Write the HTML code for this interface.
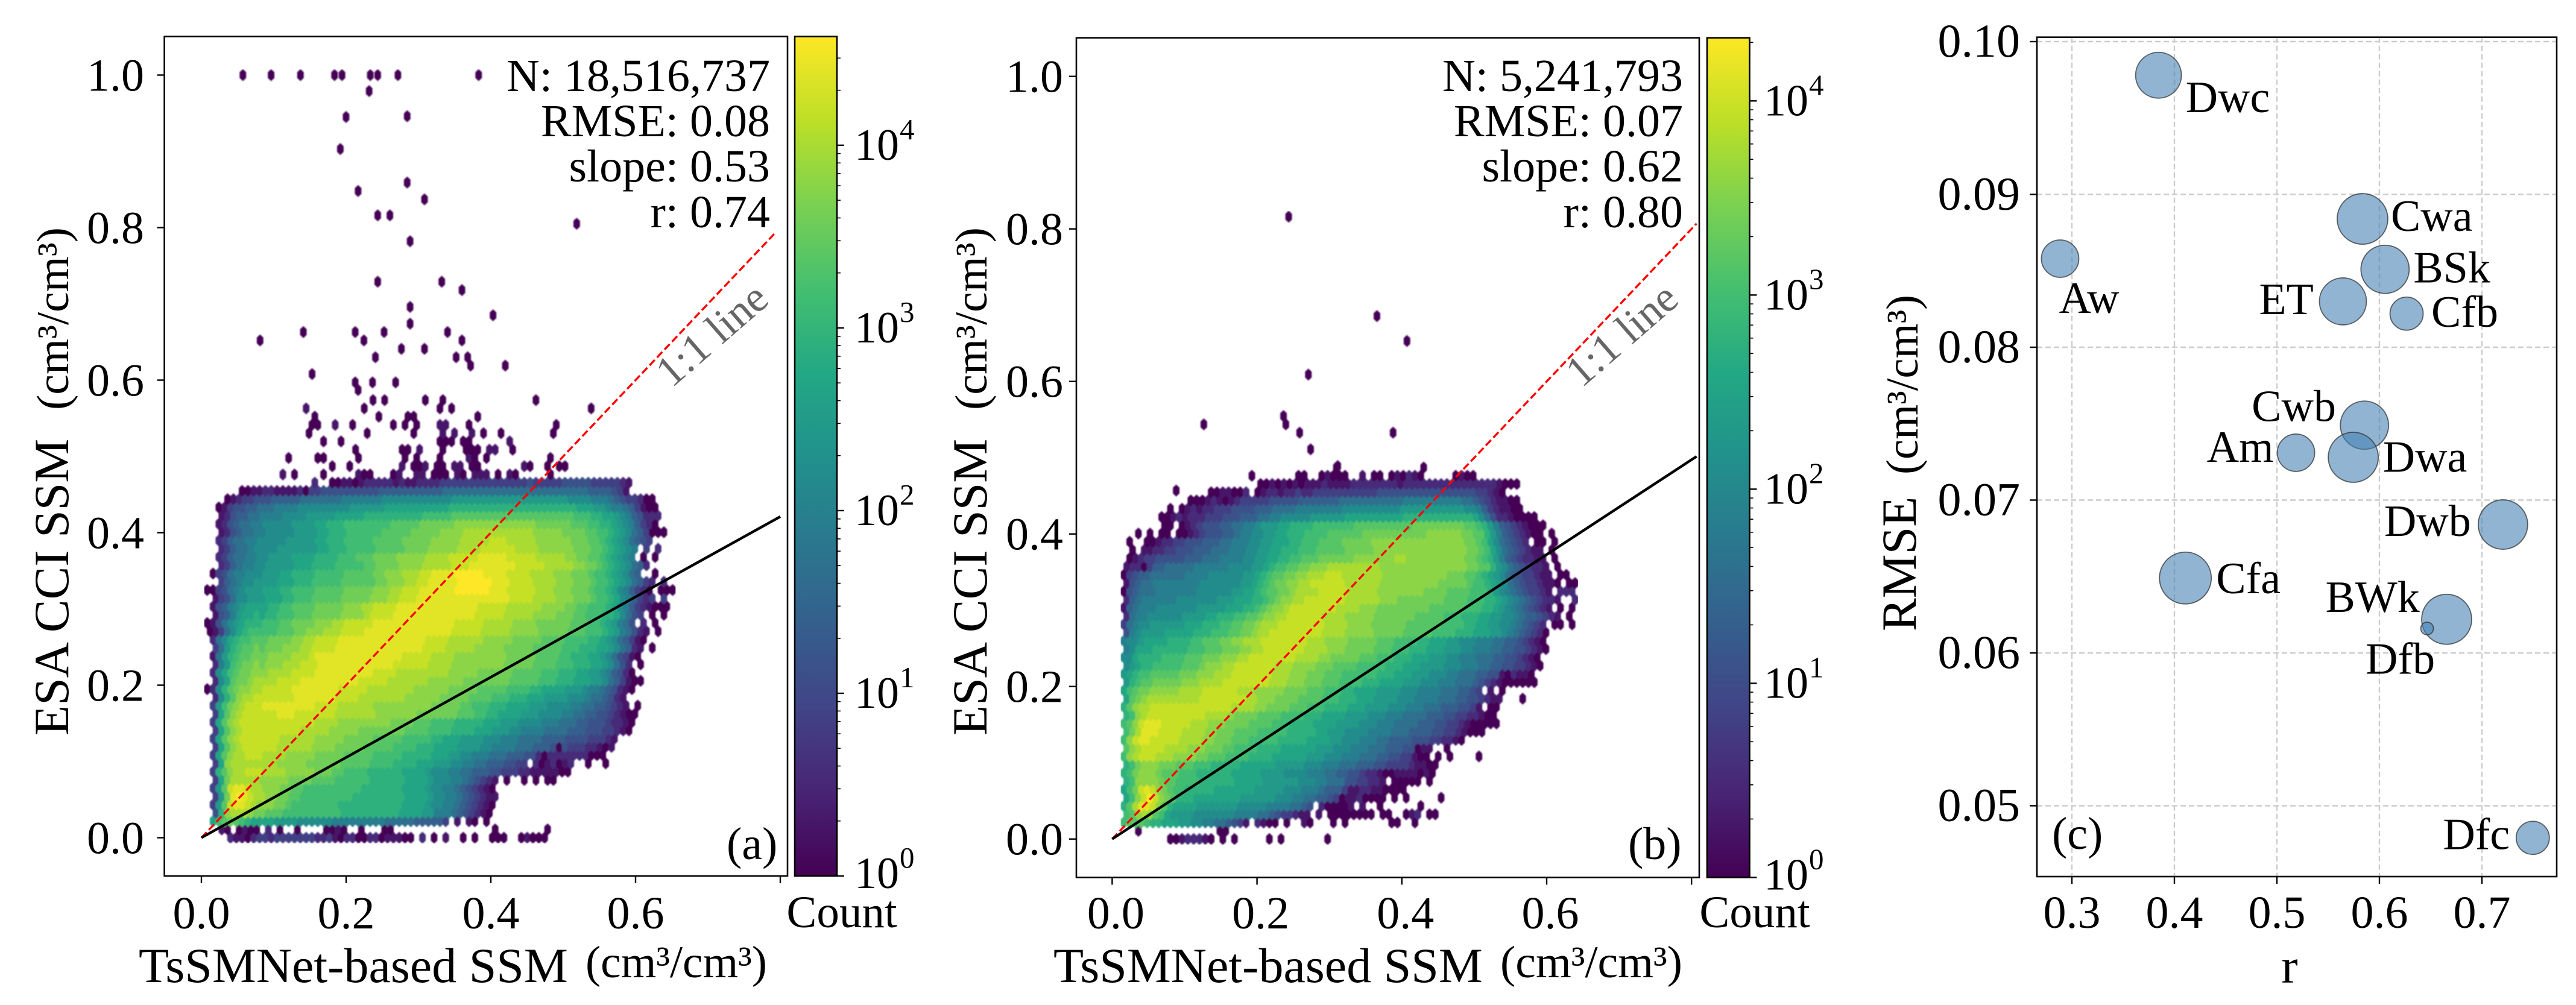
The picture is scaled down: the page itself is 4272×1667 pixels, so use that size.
<!DOCTYPE html>
<html lang="en">
<head>
<meta charset="utf-8">
<title>TsSMNet-based SSM vs ESA CCI SSM</title>
<style>
html,body{margin:0;padding:0;background:#fff}
svg{display:block}
text{font-family:"Liberation Serif",serif;fill:#000}
</style>
</head>
<body>
<svg id="chart" xmlns="http://www.w3.org/2000/svg" width="4272" height="1667" viewBox="0 0 4272 1667">
<rect width="4272" height="1667" fill="#fff"/>
<defs>
<linearGradient id="viridis" x1="0" y1="1" x2="0" y2="0">
<stop offset="0" stop-color="#440154"/><stop offset=".1" stop-color="#482475"/><stop offset=".2" stop-color="#414487"/><stop offset=".3" stop-color="#355f8d"/><stop offset=".4" stop-color="#2a788e"/><stop offset=".5" stop-color="#21918c"/><stop offset=".6" stop-color="#22a884"/><stop offset=".7" stop-color="#44bf70"/><stop offset=".8" stop-color="#7ad151"/><stop offset=".9" stop-color="#bddf26"/><stop offset="1" stop-color="#fde725"/>
</linearGradient>
<filter id="soft" x="0" y="0" width="100%" height="100%" filterUnits="objectBoundingBox"><feGaussianBlur stdDeviation="1"/></filter>
</defs>
<g id="layer-a"></g>
<g id="layer-b"></g>
<g id="layer-c"></g>
<g id="labels">
  <g text-anchor="end" font-size="76">
    <text x="1277" y="151">N: 18,516,737</text>
    <text x="1277" y="226">RMSE: 0.08</text>
    <text x="1277" y="301">slope: 0.53</text>
    <text x="1277" y="377">r: 0.74</text>
    <text x="2791" y="151">N: 5,241,793</text>
    <text x="2791" y="226">RMSE: 0.07</text>
    <text x="2791" y="301">slope: 0.62</text>
    <text x="2791" y="377">r: 0.80</text>
  </g>
  <text x="1205" y="1425" font-size="76">(a)</text>
  <text x="2700" y="1425" font-size="76">(b)</text>
  <text x="3403" y="1408" font-size="76">(c)</text>
  <text x="1196" y="573" font-size="72" style="fill:#666" text-anchor="middle" transform="rotate(-41 1196 573)">1:1 line</text>
  <text x="2705" y="573" font-size="72" style="fill:#666" text-anchor="middle" transform="rotate(-41 2705 573)">1:1 line</text>
  <text x="230" y="1629" font-size="82">TsSMNet-based SSM</text>
  <text x="971" y="1621" font-size="75" textLength="301" lengthAdjust="spacingAndGlyphs">(cm³/cm³)</text>
  <text x="1747" y="1629" font-size="82">TsSMNet-based SSM</text>
  <text x="2488" y="1621" font-size="75" textLength="302" lengthAdjust="spacingAndGlyphs">(cm³/cm³)</text>
  <text font-size="82" transform="translate(113 1220) rotate(-90)">ESA CCI SSM</text>
  <text font-size="75" transform="translate(113 680) rotate(-90)" textLength="303" lengthAdjust="spacingAndGlyphs">(cm³/cm³)</text>
  <text font-size="82" transform="translate(1636 1220) rotate(-90)">ESA CCI SSM</text>
  <text font-size="75" transform="translate(1636 680) rotate(-90)" textLength="303" lengthAdjust="spacingAndGlyphs">(cm³/cm³)</text>
  <text x="1396" y="1538" font-size="75" text-anchor="middle">Count</text>
  <text x="2910" y="1538" font-size="75" text-anchor="middle">Count</text>
  <text x="3797" y="1630" font-size="82" text-anchor="middle">r</text>
  <text font-size="82" transform="translate(3177 1047) rotate(-90)">RMSE</text>
  <text font-size="75" transform="translate(3180 787) rotate(-90)" textLength="298" lengthAdjust="spacingAndGlyphs">(cm³/cm³)</text>
</g>
</svg>
<script>
// ---------- DATA: hexbin levels per row (index = row, space = readability only, '.' = empty bin)
const levelChars = "0123456789abcdefghij";
const panelACountRows = [
".....21102 3323333333 2231022002 2011100.2. 0.1..0.0.. 000..01000",
"...10.0100 .2.0..0... .0010..0.. .00....... .......... 0........0",
"..acdedcba aaa9999888 8887777777 7766666555 553.1.10.0",
"..4bfgggfe edddcccccc ccccbbbbbb bbbbaaaa99 7776543210",
"..39dhiihg fffeedcccc ccccbbbbbb bbbbbaaaa9 8877654321 0",
"..39eijihg gffeeddccc ccccccbbbb bbbbbaaaa9 8877654321 1",
"..39dhiihg gfffeeddcc ccccccccbb bbbbbaaaa9 8877654321 0",
"..3aeggggg fffffeeeed dddccccccb bbbbbaaaa9 8887765432 1.0..0.0.0 0",
"..3bdfgghh hggggfffff eeeddccccb bbbbbaaaa9 8887766555 4433322111 1100",
"..3afggggg gggfffffee eeeedddddc cccbbbbaaa 9998877665 554433.201 2012..0..0",
"..3adfgghh hggggfffff eeeeeddddd cccccbbbbb aaa9988777 6665554420 2222222000",
"..3adfghhh hhhggggggf fffeeeeedd dddccccbbb aaaa999988 7777666555 4043332210 1",
"..3adfghhh hhhhgggggg fffffeeeee dddddccccc bbaaa99998 8877766665 5554444333 21",
"..3adfghhh hhhhhhhggg ggfffffeee eeeeeddddc cccbbbbaaa 9998877776 6665554443 3210",
"..3adfghhh hhhhhhhhhh ggggffffff fffeeeeddd ccccbbbbba aa99988887 7766655444 32210",
"..3adfghhh hhhiiihhhh hhhggggggg fffffffeee eeeedddccb baaaa99988 8877665544 32100",
"..39cefghh hiiiiiiiii hhhhgggggg ffffffffff eeeeeddccc bbbaaaa999 8888776655 4321.0",
"..28bdfggh hhhhhhiiii iiihhhhggg gggggfffff feeeeedddd cccbbbaaa9 9998887665 421",
".028bdeffg ghhhhhiiii iiiihhhhhg gggggggfff fffeeeeedd dddccccbba aaa9998776 54210",
"..28adeefg ggghhhhiii iiiiiiihhh hhgggggggf fffffeeeee eeedddddcc cbbbaaa998 653100",
"..28acdeef ffgggghhhh iiiiiiiiii hhhhgggggg gggfffffee eeeedddddc ccbbbaa998 75420",
"..279cdeef efffggghhh iiiiiiiiii iiihhhhhhg gggfffffff ffeeeeeddd dcccbbbaa9 8642.0",
"..169bcdde eeffffgggh iiiiiiiiii iiiiihhhhh ggggffffff fffeeeeedd ddccbbbaa9 864310",
"..369bcdde deeefffggh hhhiiiiiii iiiiiiiihh hhgggggfff ffeeeeeddd ddcccbbbaa 986521.0",
"..268abccd ddeeeeffgg hhhhiiiiii iiiiiiiiih hhhggggggf ffffeeeeed dddccccbba 9865310",
".01368abcc cccdddeeff fggghhhhii iiiiiiiiii iiihhhhhgg gggfffffee eeedddcccb a976421.0.",
".014689abb bcccddeeee fffgghhhhh iiiiiiiiii iiiihhhhhg ggggffffee eeeedddccb a9764.2.0.",
"..14579aab abbcccddde eeeeffffgh hhhiiiiiii iiiiiiihhh hhgggggfff feeeddcccb ba8643.0.0",
"..145789aa aabbccdddd eeeeefffgg hhhhiiiiii iiiiiiiihh hhhggggggf fffeeddccc ba87532100 0",
"..13468899 9aaabbcccd ddddeeeeef ffgghhhiii iiiiiiiiii iiihhhhggg gfffeeedcc ba875323.3",
".003467899 9aaabbcccc dddddeeeee fffgghhhii iiiijjjjjj iiihhhhhgg gfffeeedcc ba875320.0 00",
"...3567889 999aaabbbc ccccdddddd eefffgghhi iiiijjjjjj iiihhhhggg gfffeeedcc ba986532.2",
"..03467788 8999aabbbb cccccddddd eefffggghh iiiijjjjji iiihhhhggg gfffeeedcc ba9865..0.",
"...2356778 899999aaab bbbcccccdd eeeeffffgg ggghhhiiii iiiihhhhhg ggggffeedc ba98652",
"...2356677 889999aaaa bbbbcccddd eeeefffffg ggghhhhhii iiihhhhhgg gggffeeddc ba987.0.0.",
"...2356678 8889999999 aabbbccccc dddddeeeef ffffgggghh hhhhggggff ffffeeeddc ba987.3.2.",
"...2356677 8888899999 aabbbccccc dddddeeeee fffffggggg hhhgggggff ffffeeeddc ba986543",
"...1245667 7888889999 aabbbccccc cdddddeeee effffggggg gggggggfff ffeeeeddcc ba98653000",
"...1245667 7888889999 aabbbccccc cccdddddee eeeeffffff ffffffffee eeeedddccb ba9875320.",
"...1245566 7777888899 999aaaaabb bbbbbbbbcc cccddddddd dddddddddd ddddcccbba a98754222.",
"...0134455 6667777888 8888889999 99aaaaaaaa aaabbbbbbb bbbbbbbbbb bbbbbaaa99 877653100.",
"....012334 4455555666 6666777777 7888888888 8889999999 9999999999 9998888777 65433200",
".......001 1221111203 3444444444 4555555555 5566666666 6666666666 6666666555 5431",
".......... .........2 ..00110122 2221211222 2333333333 3333334333 3344444333 3321",
".......... ....1.0... .0.....100 ...01..11. 000.10.111 .0.10..... 0",
".......... .......... ..0..0.... ....1.001. 00.11.00.. .....10..0 .00",
".......... .....0.... 00.....0.. .....0.0.. .0....10.0 .......... 0",
".......... .......... ......0... ....00.1.. .0...000.1 1..0",
".......... .......... .0..0..... .......... .000.00... ...1",
".......... ........0. ........0. ......0... .1.1..1.0. .0........ 0",
".......... .........0 0..1..0... ...0.0.0.. .11...0... .......... .0",
".......... .........0 .......... 0....00... .......0",
".......... ........1. ........0. .......... .0.0...... .......... .......0",
".......... .......... .........0 .0......0. .0........ .......0"
];
const panelBCountRows = [
".......... 00122210.0 .0.....0.0 .......0..",
"....0..... ........00",
"..cdddcbba aa99887766 5431.2100. 0..10...0. 0.......00 ..0",
"..cdfgfdca 9999888888 8777766543 3211.1.000 00000.00.. 012.00",
"..bdgiihfd baaaa99999 9988888777 76654.2000 01.1..0... ...0",
"..acfhjhfe dbbbaaaaaa aa99999988 8776655430 1120000.0. 0.....0",
"..acehihfe dccbbbbbaa aaaaa99999 8887776555 3112211000 0",
"..bcffffed dccccbbbbb baaaaa9999 9988877666 4433221.00 000.0",
"..bcefffed ddcccbbbbb baaaaa9999 8888777665 5443221001 111010",
"..bcefffee edddcccbbb bbaaaaaa99 9998887776 6655544333 321100",
"..cfghhhgg gffffeeddd ccccbbbbaa aaaa999888 7776665544 33100.0.0. ...0",
"..dfghhhhg gggfffeeed dccccbbbba aaaaa99988 8777666555 44011..0..",
"..cfhiihhh hhggggffee edddcccccb bbbbaaaa99 8887776655 5544433221 0",
"..cegiiihh hhggggffee eddddccccc bbbbbaa999 8888777766 6555544332 1000",
"..cdfhiiih hhhhgggfff eeeeddddcc cbbbbaaaa9 9998887776 6665554433 2100000",
"..bcfghhhh hhhhhhgggg feeeeddddc cccbbbaaaa 9999888777 6666555443 322100",
"..bdfgghhh hhhhhhhhhh hggggffeee edddcccbbb baaa999988 8777666555 4431.00",
"..adefgggg ggggghhhhh hhhggfffee eeddddcccb bbaaa99998 8877776665 5443211... 0",
"..acdeefff ffgggghhhh hhgggfffff eeeedddccc bbaaaa9999 8887777666 5543.1.0",
"..9bcddeee eefffggggh hhhhhhhggg fffeeedddc cccbbbaaaa 9998887776 6654321000 000",
"..9abccddd ddeeefffgg ghhhhhhhgg gfffeeeddd ccccccbbba aa99988877 6665544102 110",
"..89abbccc ccdddefffg ghhhhhhhgg gffffeeedd ddcccccbbb aaa9999888 7776655443 3210",
"..88abbbbc cccdddeeef ffgghhhhhh hhggggffee eeedddcccb bbaaa99988 7776665544 3210",
"..78aaabbb bbbcccddde eeffgghhhh hhhggggfff eeeeedddcc cbbbaaa999 8877766554 43210",
"..7889aaaa bbbbccddde effggghhhh hhhhgggfff feeeeedddc cccbbaaa99 8887776655 43210",
"..4789999a aaaabbbccc ddeefgghhh hhhhhhgggg fffffeeeee dddddccccb bbaaa99876 54320",
"..36788999 999aaabbbc cddeefgggh hhhhhhhggg gffffeeeee eddddddccc cbbaa99887 65432.00.0",
"..26778888 889999aabb bccddeffgg hhhhhhgggg fffffeeeee eedddddccc bbbaa99887 6554321.0",
"..15677788 8888899999 aaabbcdeff ghhhhhhhhg gggfffeeee eeeeeddddd dcccbba987 654321.0.0",
"..25677777 7888888899 9aaabbcdef fgghhhhhhh ggggggfffe eeeeeeeddd dcccbba987 6543221..2",
"..04566677 7777788888 899aabcdde efgggghhhh hgggggffff ffffeeeedd ddcccb9876 543321.222",
"..14566777 7777788888 8899abcdee ffgghhhhhh ggggggffff ffffffeeee edccba9865 4332110.00",
"..03455666 6667777888 88899abcdd eeffggghhh gggggggfff ffffffffee eddcba9865 433211.00.",
"..12203556 6666777777 888899abcc ddeefffggg ggggggffff ffffffffff feeddb9865 43221.0",
"...0123344 4445556667 7778899aab bccdddeeee eefffffffg gfffffffff feedcb9754 32211.0",
"...0.11223 3444555666 7778899aab bbcccddddd eeeeefffff ffffffffff feedca8654 3211.0",
"...0..0012 2334445556 67778899aa abbcccdddd eeeeefffff ffffffffff feedca8654 32.00.0",
"....0.0.00 .001234445 56778899aa bbbccccddd dddeeeeeee eeeeffffff eeddb97543 2100.0",
".........0 0.01234445 566778999a abbbbccccc ccdddddddd ddeeeeeeee eddcb97543 21000",
"........00 1212223334 4455566778 8888999999 aaaaaaaaaa bbbbbbbbbb bba8642210 000",
".......... 0.01212233 3444455566 6677777777 8888888888 9999999999 9887532110 0",
".......... ...0001210 1233333444 4455555556 6666666666 7777777777 6654321100",
".......... .......001 1002.01221 2232233333 3333334444 4444444444 44433210",
".......... .......... .....00101 0101112111 1222222221 2222222222 2222221000",
".......... .......... ....0..... ..00..0100 0..1.00.01 0210.....0 100",
".......... .......... .......... ........0. .......... ...0"
];
// isolated single-count bins above the main cloud
const panelAOutlierX = [.0573,.0963,.1369,.184,.1943,.2334,.2437,.2716,.3832,.2318,.1999,.2844,.192,.2844,.2166,.3083,.2437,.2605,.5187,.2884,.2437,.3322,.3601,.2884,.4031,.2884,.2126,.1409,.3402,.2525,.0811,.2246,.3601,.3083,.2764,.2405,.3521,.368,.372,.42,.153,.2126,.2365,.2684,.2166];
const panelAOutlierY = [1,1,1,1,1,1,1,1,1,.979,.945,.946,.903,.859,.848,.837,.816,.816,.805,.782,.729,.729,.718,.696,.685,.674,.663,.663,.663,.663,.652,.652,.652,.641,.641,.63,.63,.63,.619,.619,.608,.597,.597,.597,.587];
const panelBOutlierX = [.2437,.3656,.4071,.2709,.1266,.2366,.2398,.2589,.3879,.274,.3115,.0884];
const panelBOutlierY = [.816,.6857,.653,.609,.5437,.5546,.5437,.5328,.5328,.511,.489,.457];
// fit lines
const panelAFitEnd = [0.8, 0.421];
const panelAOneToOneEnd = [0.7915, 0.7915];
const panelBFitEnd = [0.807, 0.5017];
const panelBOneToOneEnd = [0.807, 0.807];
// tick values
const hexXTicks = [0, 0.2, 0.4, 0.6, 0.8];
const hexXTickLabels = ["0.0", "0.2", "0.4", "0.6", ""];
const hexYTicks = [0, 0.2, 0.4, 0.6, 0.8, 1];
const hexYTickLabels = ["0.0", "0.2", "0.4", "0.6", "0.8", "1.0"];
const colorbarExponents = [0, 1, 2, 3, 4];
// panel (c) bubble values
const climateNames = ["Dwc","Cwa","BSk","ET","Cfb","Aw","Cwb","Am","Dwa","Dwb","Cfa","BWk","Dfb","Dfc"];
const climateR = [.3845,.5835,.6055,.5644,.6265,.2885,.5854,.5186,.5745,.7205,.4107,.6656,.6465,.7496];
const climateRMSE = [.0978,.0884,.0851,.083,.0822,.0858,.0749,.0731,.0728,.0684,.0649,.0622,.0616,.0479];
const climateSize = [38,42,40,39,27.5,31,40,31,41.5,41,43,41.5,10.5,27.5];
const bubbleXTicks = [.3,.4,.5,.6,.7];
const bubbleXTickLabels = ["0.3","0.4","0.5","0.6","0.7"];
const bubbleYTicks = [.05,.06,.07,.08,.09,.1];
const bubbleYTickLabels = ["0.05","0.06","0.07","0.08","0.09","0.10"];

// ---------- RENDERING
const NS = "http://www.w3.org/2000/svg";
const viridisStops = ["#440154","#482475","#414487","#355f8d","#2a788e","#21918c","#22a884","#44bf70","#7ad151","#bddf26","#fde725"];
function hexRgb(h){return [1,3,5].map(i=>parseInt(h.substr(i,2),16));}
function viridis(f){
  f = Math.max(0,Math.min(1,f));
  const p = f*(viridisStops.length-1), i = Math.min(Math.floor(p),viridisStops.length-2), t = p-i;
  const a = hexRgb(viridisStops[i]), b = hexRgb(viridisStops[i+1]);
  return "rgb("+a.map((v,k)=>Math.round(v+(b[k]-v)*t)).join(",")+")";
}
function node(parent, tag, attrs){
  const e = document.createElementNS(NS, tag);
  for (const k in attrs) e.setAttribute(k, attrs[k]);
  parent.appendChild(e);
  return e;
}
const ROW_STEP = 0.010825;      // y data units between hex rows
const COL_STEP = 0.00804;       // x data units between hex columns
const HEX_COUNT_LEVELS = 19;
const LEVEL_CALIBRATION = 0.06; // read-off levels sit slightly low in the mid range

function drawHexPanel(cfg){
  const g = document.getElementById(cfg.layer);
  const sx = v => cfg.x0 + cfg.xs*v;
  const sy = v => cfg.y0 - cfg.ys*v;
  const hw = COL_STEP*cfg.xs/2, hh = ROW_STEP*cfg.ys*2/3;
  const logCount = level => {
    const f = level/HEX_COUNT_LEVELS;
    return (f + LEVEL_CALIBRATION*Math.sin(Math.PI*f))*cfg.decades;
  };
  const hexPath = (x,y) => {
    const cx = sx(x), cy = sy(y);
    return "M"+cx.toFixed(1)+" "+(cy-hh).toFixed(1)+"l"+hw.toFixed(2)+" "+(hh/2).toFixed(2)+"v"+hh.toFixed(2)+"l"+(-hw).toFixed(2)+" "+(hh/2).toFixed(2)+"l"+(-hw).toFixed(2)+" "+(-hh/2).toFixed(2)+"v"+(-hh).toFixed(2)+"z";
  };
  const hexLayer = node(g,"g",{filter:"url(#soft)"});
  
  
  const addHex = (x,y,level) => {
    const color = viridis(logCount(level)/cfg.decades);
    const h = node(hexLayer,"path",{d:hexPath(x,y),fill:color,stroke:color,"stroke-width":1.2});
    
    
  };
  cfg.rows.forEach((raw,r) => {
    const chars = raw.replace(/ /g,"");
    for (let c=0;c<chars.length;c++){
      const level = levelChars.indexOf(chars[c]);
      if (level<0) continue;
      addHex((c+(r%2?0.5:0))*COL_STEP, r*ROW_STEP, level);
    }
  });
  cfg.outX.forEach((x,i) => addHex(x,cfg.outY[i],0));

  // 1:1 and fit lines
  const oneToOne = node(g,"line",{x1:sx(0),y1:sy(0),x2:sx(cfg.oneEnd[0]),y2:sy(cfg.oneEnd[1]),stroke:"#f00","stroke-width":3.4,"stroke-dasharray":"12.5 5.5"});
  
  
  const fit = node(g,"line",{x1:sx(0),y1:sy(0),x2:sx(cfg.fitEnd[0]),y2:sy(cfg.fitEnd[1]),stroke:"#000","stroke-width":4.4});
  
  

  // frame
  const frame = node(g,"rect",{x:cfg.left,y:cfg.top,width:cfg.right-cfg.left,height:cfg.bottom-cfg.top,fill:"none",stroke:"#000","stroke-width":2.6});
  
  

  // x ticks
  hexXTicks.forEach((v,i) => {
    const t = node(g,"line",{x1:sx(v),x2:sx(v),y1:cfg.bottom,y2:cfg.bottom+12,stroke:"#000","stroke-width":2.4});
    
    
    if (!hexXTickLabels[i]) return;
    const l = node(g,"text",{x:sx(v)+cfg.xLabelShift,y:cfg.xLabelY,"font-size":76,"text-anchor":"middle"});
    l.textContent = hexXTickLabels[i];
    
    
  });
  // y ticks
  hexYTicks.forEach((v,i) => {
    const t = node(g,"line",{x1:cfg.left-12,x2:cfg.left,y1:sy(v),y2:sy(v),stroke:"#000","stroke-width":2.4});
    
    
    const l = node(g,"text",{x:cfg.yLabelX,y:sy(v)+26,"font-size":76,"text-anchor":"end"});
    l.textContent = hexYTickLabels[i];
    
    
  });
  // colorbar
  const bar = node(g,"rect",{x:cfg.cbL,y:cfg.top,width:cfg.cbR-cfg.cbL,height:cfg.bottom-cfg.top,fill:"url(#viridis)",stroke:"#000","stroke-width":2.6});
  
  
  const cy = logV => cfg.bottom - logV/cfg.decades*(cfg.bottom-cfg.top);
  colorbarExponents.forEach(exp => {
    const major = node(g,"line",{x1:cfg.cbR,x2:cfg.cbR+12,y1:cy(exp),y2:cy(exp),stroke:"#000","stroke-width":2.4});
    
    
    for (let m=2;m<=9;m++){
      const lv = exp+Math.log10(m);
      if (lv>cfg.decades) break;
      const minor = node(g,"line",{x1:cfg.cbR,x2:cfg.cbR+6,y1:cy(lv),y2:cy(lv),stroke:"#000","stroke-width":1.6});
      
      
    }
    const l = node(g,"text",{x:cfg.cbLabelX,y:cy(exp)+(exp===0?20:24),"font-size":74});
    
    
    const base = node(l,"tspan",{});
    base.textContent = "10";
    const power = node(l,"tspan",{dy:-34,"font-size":49,dx:1});
    power.textContent = String(exp);
  });
}

drawHexPanel({layer:"layer-a",rows:panelACountRows,outX:panelAOutlierX,outY:panelAOutlierY,
  fitEnd:panelAFitEnd,oneEnd:panelAOneToOneEnd,
  left:272.6,right:1306,top:60.6,bottom:1453,x0:334,xs:1200,y0:1389.5,ys:1265,
  cbL:1318,cbR:1388,decades:4.595,cbLabelX:1417,xLabelY:1540,xLabelShift:0,yLabelX:239});
drawHexPanel({layer:"layer-b",rows:panelBCountRows,outX:panelBOutlierX,outY:panelBOutlierY,
  fitEnd:panelBFitEnd,oneEnd:panelBOneToOneEnd,
  left:1785,right:2818,top:62.7,bottom:1455.4,x0:1844.4,xs:1201,y0:1391.7,ys:1265,
  cbL:2831,cbR:2901.5,decades:4.325,cbLabelX:2925,xLabelY:1540,xLabelShift:6,yLabelX:1763});

// panel (c)
(function(){
  const g = document.getElementById("layer-c");
  const L=3378,R=4240,T=61.7,B=1454;
  const sx = v => 3436+(v-0.3)*1700;
  const sy = v => 69+(0.10-v)*25350;
  bubbleXTicks.forEach((v,i) => {
    const gl = node(g,"line",{x1:sx(v),x2:sx(v),y1:T,y2:B,stroke:"#ccc","stroke-width":2.4,"stroke-dasharray":"9 5"});
    
    
    const t = node(g,"line",{x1:sx(v),x2:sx(v),y1:B,y2:B+12,stroke:"#000","stroke-width":2.4});
    
    
    const l = node(g,"text",{x:sx(v),y:1539,"font-size":76,"text-anchor":"middle"});
    l.textContent = bubbleXTickLabels[i];
    
    
  });
  bubbleYTicks.forEach((v,i) => {
    const gl = node(g,"line",{x1:L,x2:R,y1:sy(v),y2:sy(v),stroke:"#ccc","stroke-width":2.4,"stroke-dasharray":"9 5"});
    
    
    const t = node(g,"line",{x1:L-12,x2:L,y1:sy(v),y2:sy(v),stroke:"#000","stroke-width":2.4});
    
    
    const l = node(g,"text",{x:3350,y:sy(v)+25,"font-size":78,"text-anchor":"end"});
    l.textContent = bubbleYTickLabels[i];
    
    
  });
  // label placement relative to each bubble centre (px)
  const offsets = {Dwc:[45,61],Cwa:[47,20],BSk:[47,22],ET:[-139,21],Cfb:[41,22],Aw:[-2,90],Cwb:[-187,-7],Am:[-148,15],Dwa:[49,24],Dwb:[-197,19],Cfa:[51,25],BWk:[-201,-12],Dfb:[-102,75],Dfc:[-149,19]};
  climateNames.forEach((name,i) => {
    const cx = sx(climateR[i]), cy = sy(climateRMSE[i]);
    const c = node(g,"circle",{cx:cx,cy:cy,r:climateSize[i],fill:"#4682b4","fill-opacity":.6,stroke:"#333","stroke-opacity":.75,"stroke-width":1.8});
    
    
  });
  climateNames.forEach((name,i) => {
    const cx = sx(climateR[i]), cy = sy(climateRMSE[i]);
    const l = node(g,"text",{x:cx+offsets[name][0],y:cy+offsets[name][1],"font-size":74});
    l.textContent = name;
    
    
  });
  const frame = node(g,"rect",{x:L,y:T,width:R-L,height:B-T,fill:"none",stroke:"#000","stroke-width":2.6});
  
  
})();
</script>
</body>
</html>
